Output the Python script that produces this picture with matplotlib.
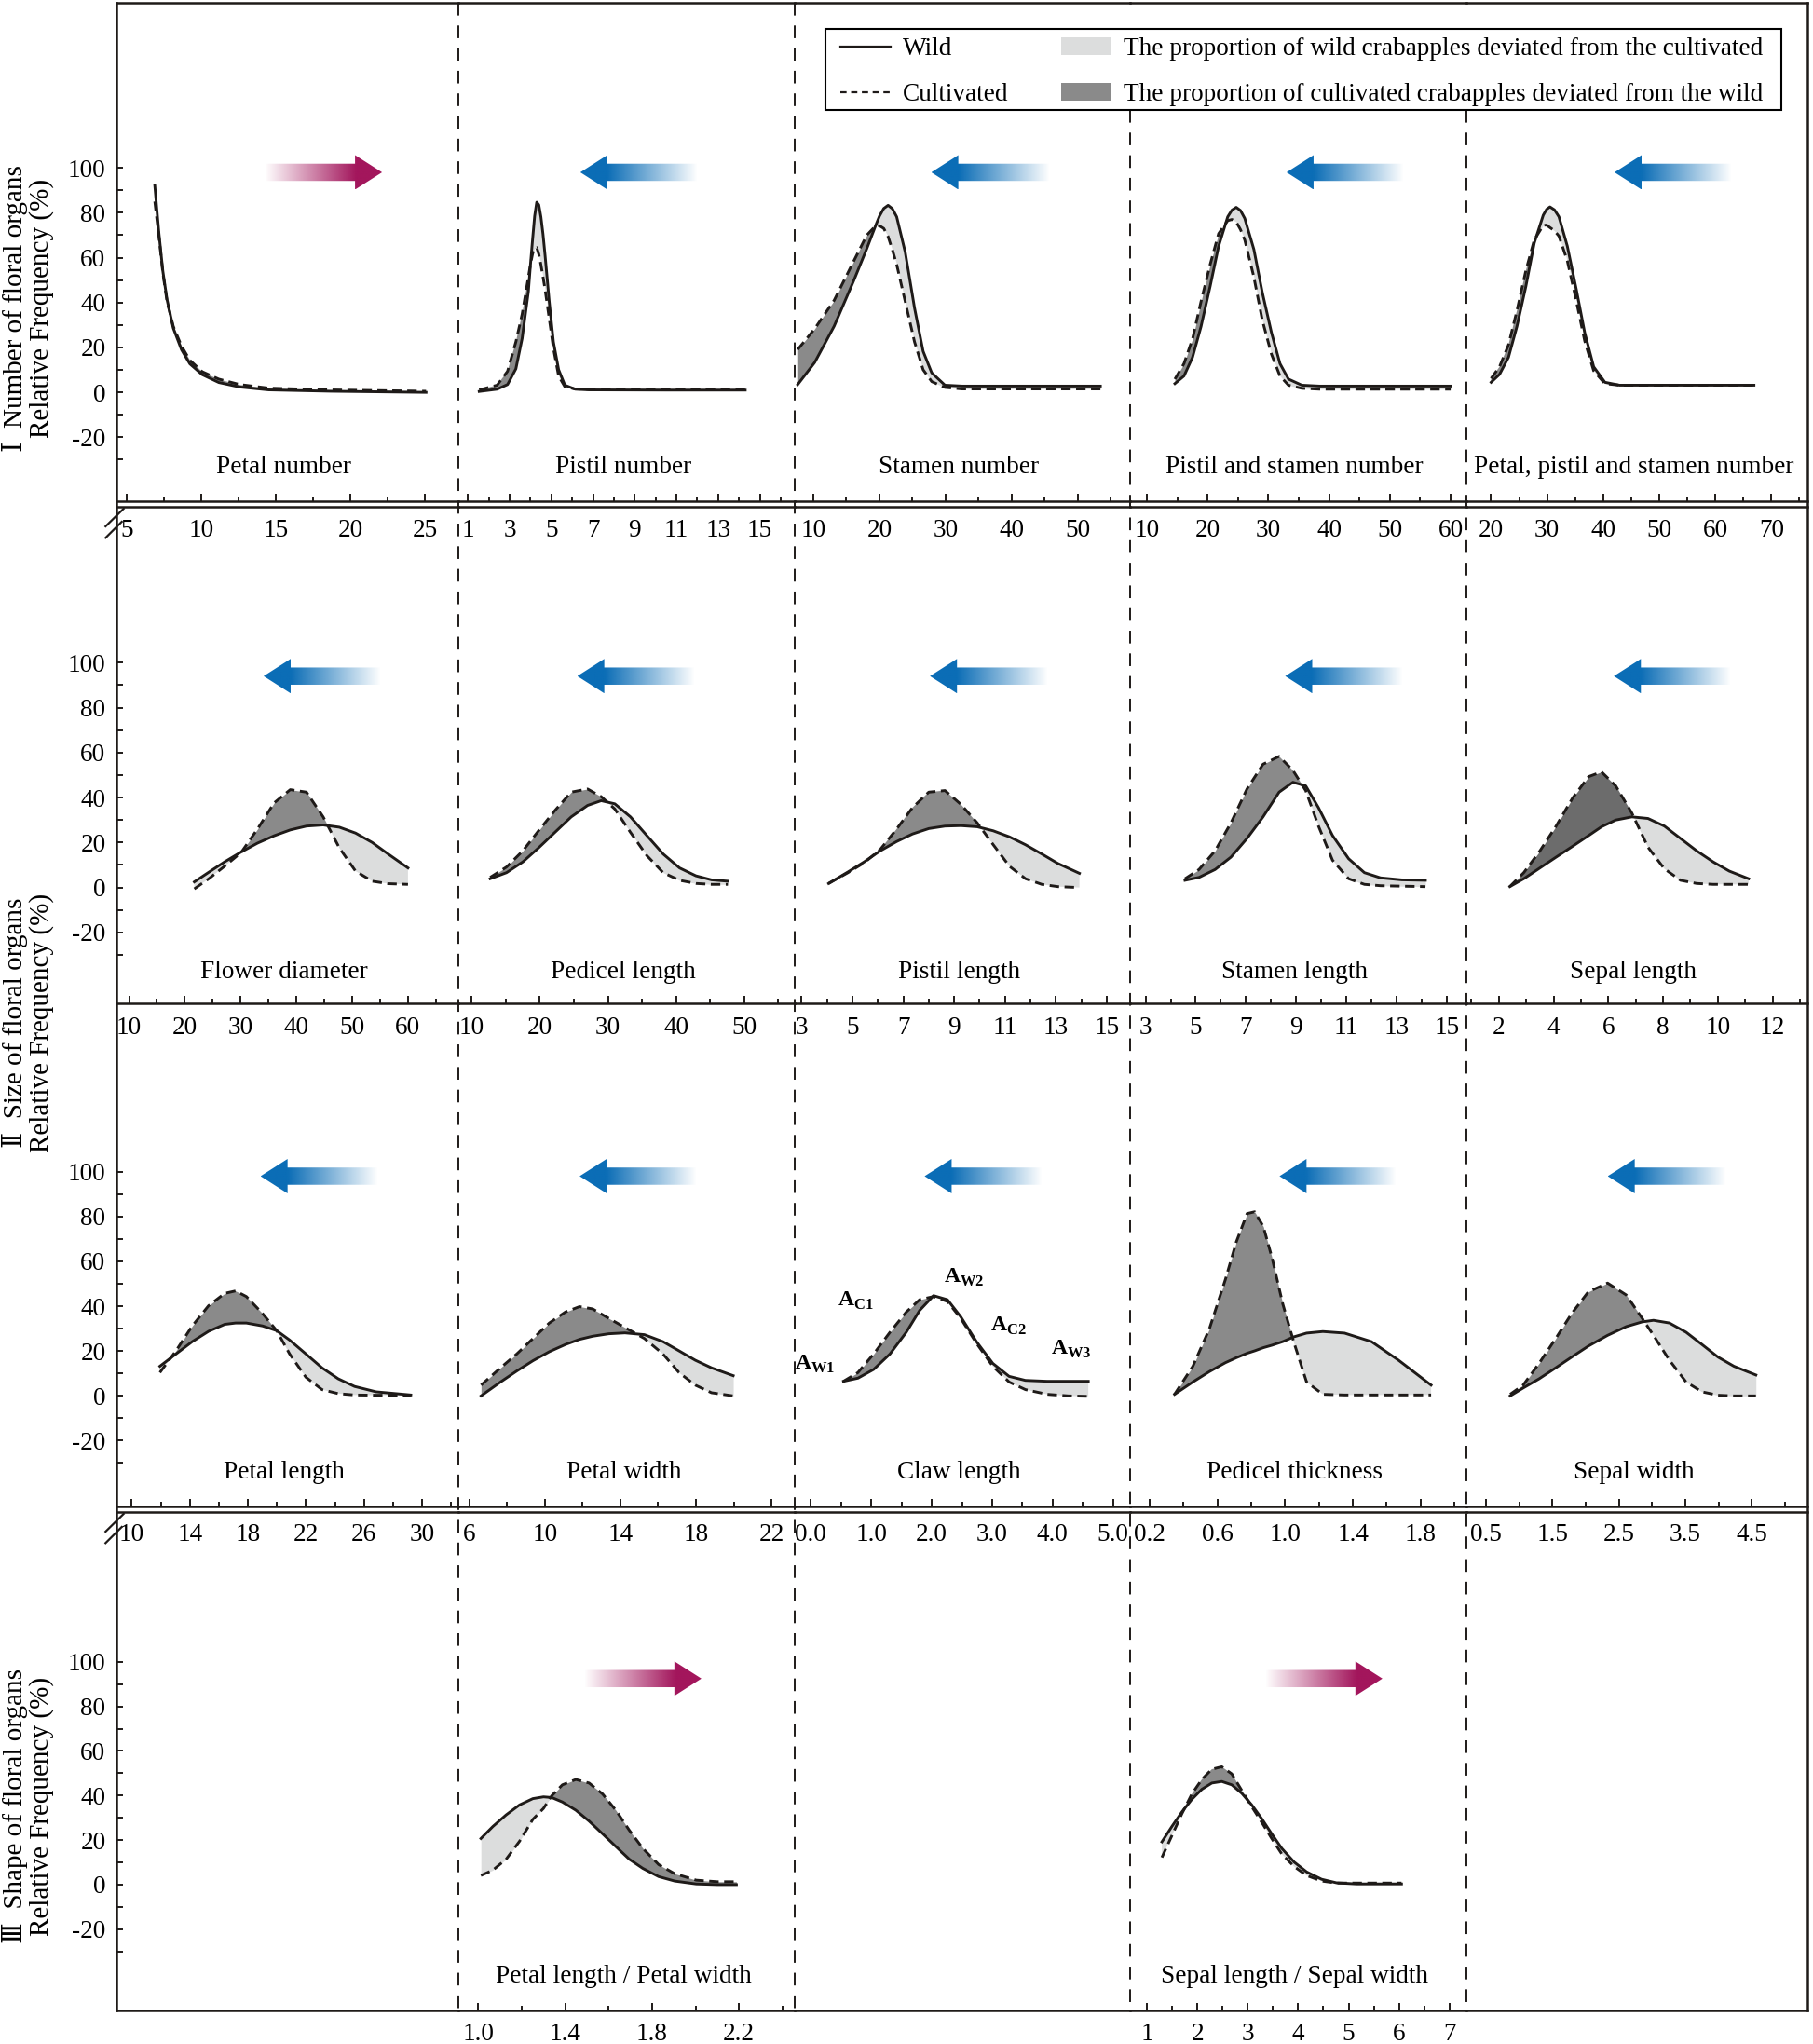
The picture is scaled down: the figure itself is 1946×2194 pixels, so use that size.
import numpy as np
import matplotlib
matplotlib.use("Agg")
import matplotlib.pyplot as plt
from matplotlib.lines import Line2D
from matplotlib.patches import Patch, Polygon, Rectangle
from matplotlib import transforms
from matplotlib.colors import to_rgb

plt.rcParams['font.family'] = ['Liberation Serif', 'DejaVu Serif', 'Noto Sans CJK SC']
plt.rcParams['mathtext.fontset'] = 'custom'
plt.rcParams['mathtext.rm'] = 'Liberation Serif'
plt.rcParams['mathtext.bf'] = 'Liberation Serif:bold'

# ---------------- data ----------------
# row I : number of floral organs
petal_num_x = [6.9, 7.17, 7.44, 7.72, 8.14, 8.69, 9.25, 10.08, 11.19, 12.58, 14.53, 18.69, 25.08]
petal_num_wild = [92.1, 71.4, 54.0, 41.3, 28.6, 19.0, 12.7, 7.9, 4.4, 2.4, 1.1, 0.5, 0.0]
petal_num_cult = [85.0, 69.8, 53.2, 40.5, 29.4, 20.6, 14.3, 9.2, 5.9, 3.5, 1.9, 1.1, 0.5]

pistil_num_x = [1.54, 2.4, 2.9, 3.3, 3.6, 3.9, 4.0, 4.1, 4.2, 4.3, 4.4, 4.5, 4.6, 4.7, 4.9, 5.1, 5.35, 5.65, 6.15, 6.8, 10.5, 14.3]
pistil_num_wild = [0.4, 1.4, 3.5, 10.5, 24.0, 45.0, 57.0, 68.0, 78.5, 84.7, 83.5, 78.2, 70.5, 61.0, 40.4, 22.5, 10.1, 3.2, 1.4, 1.1, 1.0, 1.0]
pistil_num_cult = [1.1, 3.2, 9.4, 22.5, 34.8, 51.4, 57.0, 61.7, 64.3, 64.5, 61.5, 56.9, 51.5, 45.9, 32.8, 19.7, 7.3, 2.5, 1.5, 1.4, 1.4, 1.1]

stamen_num_x = [7.64, 10.2, 13.15, 16.1, 18.08, 19.46, 20.0, 20.65, 21.3, 21.95, 22.6, 23.9, 25.3, 26.6, 27.9, 29.9, 32.5, 53.4]
stamen_num_wild = [3.5, 13.3, 29.5, 49.7, 64.0, 74.6, 78.5, 81.9, 83.3, 81.8, 78.2, 62.4, 37.6, 18.3, 8.7, 3.2, 2.8, 2.8]
stamen_num_cult = [19.1, 28.3, 41.0, 58.4, 70.0, 74.3, 74.2, 73.0, 69.4, 63.5, 57.0, 40.4, 22.5, 10.1, 4.8, 2.2, 1.5, 1.5]

ps_num_x = [14.6, 16.1, 17.5, 18.9, 20.4, 21.8, 23.3, 24.0, 24.7, 25.4, 26.1, 27.6, 29.0, 30.5, 31.9, 33.3, 35.5, 38.4, 60.0]
ps_num_wild = [3.9, 7.3, 15.6, 29.3, 47.2, 65.1, 78.2, 81.2, 82.4, 81.0, 77.5, 63.7, 44.4, 26.6, 12.8, 5.9, 3.2, 2.8, 2.8]
ps_num_cult = [5.9, 12.8, 23.8, 40.4, 56.9, 70.7, 76.5, 77.0, 75.9, 72.5, 67.9, 51.4, 32.1, 17.0, 7.3, 3.2, 1.8, 1.4, 1.4]

pps_num_x = [20.0, 21.5, 23.1, 24.6, 26.2, 27.7, 29.3, 29.9, 30.5, 31.3, 32.1, 33.6, 35.2, 36.7, 38.3, 40.3, 42.9, 66.9]
pps_num_wild = [4.5, 8.0, 15.6, 29.3, 47.2, 66.5, 78.9, 81.5, 82.6, 81.3, 78.2, 65.1, 45.9, 26.6, 11.4, 4.5, 3.2, 3.2]
pps_num_cult = [6.2, 11.4, 21.1, 36.3, 54.2, 67.9, 74.4, 74.5, 73.4, 72.0, 69.6, 58.6, 40.8, 22.9, 9.6, 3.9, 3.2, 3.2]

# row II : size of floral organs
flower_x = [21.7, 24.3, 27.2, 30.1, 33.0, 36.0, 38.9, 41.8, 44.8, 47.7, 50.6, 53.6, 56.5, 60.0]
flower_wild = [2.5, 6.8, 11.5, 15.8, 19.7, 23.0, 25.6, 27.3, 27.8, 26.8, 24.2, 20.0, 14.8, 8.7]
flower_cult = [-0.6, 3.9, 9.6, 15.6, 25.9, 37.6, 43.5, 42.4, 31.4, 17.6, 7.3, 2.8, 1.7, 1.4]

pedicel_x = [12.7, 15.1, 17.5, 19.8, 22.2, 24.6, 27.0, 29.0, 31.0, 33.3, 35.7, 38.1, 40.5, 42.9, 45.2, 47.6]
pedicel_wild = [3.9, 6.6, 11.4, 17.6, 24.5, 31.4, 36.5, 38.6, 37.2, 31.4, 23.1, 14.9, 8.7, 5.2, 3.4, 2.8]
pedicel_cult = [4.5, 9.1, 16.3, 25.2, 34.2, 42.4, 43.8, 40.4, 34.9, 24.5, 14.2, 6.6, 3.2, 1.8, 1.4, 1.4]

pistil_len_x = [4.06, 4.82, 5.46, 6.09, 6.73, 7.36, 8.0, 8.64, 9.27, 9.91, 10.54, 11.18, 11.81, 12.45, 13.08, 13.93]
pistil_len_wild = [1.8, 6.9, 11.4, 16.3, 20.4, 23.8, 26.2, 27.3, 27.5, 27.0, 25.2, 22.5, 19.0, 14.9, 10.7, 6.3]
pistil_len_cult = [1.8, 6.6, 11.0, 16.9, 25.9, 35.5, 42.4, 43.1, 36.9, 28.7, 19.0, 9.4, 3.9, 1.4, 0.4, 0.0]

stamen_len_x = [4.57, 5.13, 5.77, 6.40, 7.04, 7.68, 8.32, 8.87, 9.38, 9.89, 10.45, 11.09, 11.72, 12.36, 13.21, 14.15]
stamen_len_wild = [3.2, 4.5, 8.0, 13.5, 21.8, 31.4, 42.4, 46.8, 45.2, 35.5, 23.1, 12.8, 6.6, 4.3, 3.4, 3.2]
stamen_len_cult = [3.9, 8.0, 16.3, 28.7, 43.8, 54.8, 58.3, 52.1, 43.1, 27.3, 12.1, 3.9, 1.4, 0.8, 0.6, 0.4]

sepal_len_x = [2.40, 2.91, 3.50, 4.09, 4.69, 5.28, 5.75, 6.27, 6.86, 7.45, 8.05, 8.64, 9.23, 9.83, 10.42, 11.13]
sepal_len_wild = [0.4, 3.9, 8.7, 13.5, 18.3, 23.1, 27.0, 30.0, 31.4, 30.7, 27.3, 21.8, 16.3, 11.4, 7.3, 3.9]
sepal_len_cult = [0.4, 6.6, 16.3, 27.3, 39.7, 49.3, 51.4, 45.2, 33.1, 17.9, 8.3, 3.2, 1.8, 1.4, 1.4, 1.4]

petal_len_x = [11.94, 13.05, 14.17, 15.29, 16.40, 17.15, 17.89, 19.01, 19.98, 20.87, 21.99, 23.10, 24.22, 25.34, 26.83, 29.21]
petal_len_wild = [13.2, 18.7, 24.2, 28.8, 31.9, 32.5, 32.5, 31.2, 29.1, 24.9, 18.7, 12.5, 7.6, 4.2, 1.8, 0.4]
petal_len_cult = [10.4, 20.1, 31.2, 40.2, 45.7, 46.8, 44.3, 36.7, 29.1, 18.7, 8.3, 2.8, 1.0, 0.4, 0.3, 0.3]

petal_wid_x = [6.63, 7.66, 8.52, 9.38, 10.24, 11.09, 11.84, 12.53, 13.38, 14.24, 15.27, 16.25, 17.10, 17.96, 18.82, 19.97]
petal_wid_wild = [0.0, 6.2, 11.1, 15.7, 19.7, 22.9, 25.2, 26.6, 27.7, 28.1, 27.3, 24.2, 20.1, 15.9, 12.5, 9.0]
petal_wid_cult = [4.8, 12.5, 18.7, 25.6, 32.5, 37.4, 39.8, 38.8, 34.6, 30.5, 25.6, 18.7, 10.4, 4.8, 1.4, 0.0]

claw_x = [0.54, 0.78, 1.04, 1.31, 1.58, 1.80, 2.03, 2.26, 2.48, 2.74, 3.01, 3.28, 3.55, 3.91, 4.26, 4.59]
claw_wild = [6.5, 7.9, 11.8, 18.7, 28.4, 38.1, 44.7, 42.9, 35.3, 24.2, 14.5, 8.7, 6.9, 6.5, 6.5, 6.5]
claw_cult = [6.5, 10.4, 18.7, 28.4, 37.4, 42.9, 44.3, 42.1, 34.6, 23.5, 13.2, 6.2, 2.8, 0.7, 0.0, -0.2]

ped_thick_x = [0.348, 0.456, 0.553, 0.648, 0.712, 0.776, 0.821, 0.872, 0.923, 0.987, 1.051, 1.127, 1.223, 1.351, 1.51, 1.67, 1.862]
ped_thick_wild = [0.7, 6.2, 10.8, 14.8, 17.0, 19.0, 20.1, 21.5, 22.6, 24.2, 26.3, 28.0, 28.7, 28.0, 24.2, 15.9, 4.8]
ped_thick_cult = [0.7, 13.2, 29.8, 51.9, 68.6, 81.3, 82.1, 75.5, 61.6, 40.9, 24.2, 6.2, 0.7, 0.4, 0.4, 0.4, 0.4]

sepal_wid_x = [0.865, 1.06, 1.30, 1.55, 1.79, 2.04, 2.33, 2.61, 2.85, 3.02, 3.26, 3.51, 3.75, 3.99, 4.23, 4.56]
sepal_wid_wild = [0.0, 3.5, 7.6, 12.5, 17.3, 22.2, 27.0, 30.9, 33.0, 33.7, 32.5, 28.4, 22.9, 17.3, 13.2, 9.3]
sepal_wid_cult = [0.7, 4.8, 14.5, 25.6, 36.7, 46.4, 50.3, 45.0, 34.6, 27.0, 15.9, 6.2, 1.8, 0.3, 0.0, 0.0]

# row III : shape of floral organs
plw_x = [1.012, 1.067, 1.128, 1.19, 1.251, 1.30, 1.338, 1.387, 1.449, 1.51, 1.572, 1.633, 1.695, 1.757, 1.83, 1.904, 2.003, 2.10, 2.188]
plw_wild = [20.7, 26.1, 31.3, 35.8, 38.6, 39.4, 39.1, 37.1, 33.4, 28.5, 22.8, 17.1, 11.4, 7.3, 3.6, 1.6, 0.3, 0.0, 0.0]
plw_cult = [4.1, 6.5, 11.4, 19.5, 29.3, 34.2, 39.9, 44.8, 47.2, 45.6, 40.7, 33.4, 24.4, 16.3, 9.0, 4.9, 2.0, 1.3, 1.3]

slw_x = [1.297, 1.495, 1.693, 1.891, 2.089, 2.287, 2.485, 2.683, 2.881, 3.079, 3.277, 3.475, 3.673, 3.921, 4.168, 4.465, 4.762, 5.158, 5.554, 6.05]
slw_wild = [19.2, 26.1, 32.6, 38.3, 42.8, 45.6, 46.3, 44.8, 41.0, 35.8, 29.6, 22.8, 16.3, 10.1, 5.7, 2.4, 0.8, 0.3, 0.3, 0.3]
slw_cult = [12.2, 22.0, 31.8, 40.7, 47.2, 51.8, 52.9, 49.7, 42.3, 35.0, 28.0, 20.7, 13.8, 8.1, 4.1, 1.6, 0.7, 0.7, 0.7, 0.7]

# y axis ticks
y_ticks = [-20, 0, 20, 40, 60, 80, 100]
y_ticklabels = ['-20', '0', '20', '40', '60', '80', '100']
y_minor = [-30, -10, 10, 30, 50, 70, 90]

row_titles = ['Ⅰ  Number of floral organs\nRelative Frequency (%)',
              'Ⅱ  Size of floral organs\nRelative Frequency (%)',
              'Ⅲ  Shape of floral organs\nRelative Frequency (%)']

claw_marks = [r'$\mathbf{A}_{\mathbf{W1}}$', r'$\mathbf{A}_{\mathbf{C1}}$', r'$\mathbf{A}_{\mathbf{W2}}$',
              r'$\mathbf{A}_{\mathbf{C2}}$', r'$\mathbf{A}_{\mathbf{W3}}$']
claw_mark_x = [-0.26, 0.45, 2.2, 2.97, 3.97]
claw_mark_y = [11.7, 40.0, 50.4, 29.0, 18.5]

# panels: (row, col, label, x, wild, cult, xlim, ticks, ticklabels, minor, arrow)
panels = [
    (0, 0, 'Petal number', petal_num_x, petal_num_wild, petal_num_cult, (4.30, 27.27),
     [5, 10, 15, 20, 25], ['5', '10', '15', '20', '25'], [7.5, 12.5, 17.5, 22.5], ('right', 0.605)),
    (0, 1, 'Pistil number', pistil_num_x, pistil_num_wild, pistil_num_cult, (0.56, 16.69),
     [1, 3, 5, 7, 9, 11, 13, 15], ['1', '3', '5', '7', '9', '11', '13', '15'], [2, 4, 6, 8, 10, 12, 14, 16], ('left', 0.536)),
    (0, 2, 'Stamen number', stamen_num_x, stamen_num_wild, stamen_num_cult, (7.24, 57.88),
     [10, 20, 30, 40, 50], ['10', '20', '30', '40', '50'], [15, 25, 35, 45, 55], ('left', 0.582)),
    (0, 3, 'Pistil and stamen number', ps_num_x, ps_num_wild, ps_num_cult, (7.21, 62.58),
     [10, 20, 30, 40, 50, 60], ['10', '20', '30', '40', '50', '60'], [15, 25, 35, 45, 55], ('left', 0.640)),
    (0, 4, 'Petal, pistil and stamen number', pps_num_x, pps_num_wild, pps_num_cult, (15.58, 76.5),
     [20, 30, 40, 50, 60, 70], ['20', '30', '40', '50', '60', '70'], [25, 35, 45, 55, 65, 75], ('left', 0.606)),
    (1, 0, 'Flower diameter', flower_x, flower_wild, flower_cult, (7.66, 69.1),
     [10, 20, 30, 40, 50, 60], ['10', '20', '30', '40', '50', '60'], [15, 25, 35, 45, 55, 65], ('left', 0.602)),
    (1, 1, 'Pedicel length', pedicel_x, pedicel_wild, pedicel_cult, (8.09, 57.46),
     [10, 20, 30, 40, 50], ['10', '20', '30', '40', '50'], [15, 25, 35, 45, 55], ('left', 0.527)),
    (1, 2, 'Pistil length', pistil_len_x, pistil_len_wild, pistil_len_cult, (2.74, 15.92),
     [3, 5, 7, 9, 11, 13, 15], ['3', '5', '7', '9', '11', '13', '15'], [4, 6, 8, 10, 12, 14], ('left', 0.578)),
    (1, 3, 'Stamen length', stamen_len_x, stamen_len_wild, stamen_len_cult, (2.38, 15.78),
     [3, 5, 7, 9, 11, 13, 15], ['3', '5', '7', '9', '11', '13', '15'], [4, 6, 8, 10, 12, 14], ('left', 0.636)),
    (1, 4, 'Sepal length', sepal_len_x, sepal_len_wild, sepal_len_cult, (0.81, 13.29),
     [2, 4, 6, 8, 10, 12], ['2', '4', '6', '8', '10', '12'], [1, 3, 5, 7, 9, 11, 13], ('left', 0.604)),
    (2, 0, 'Petal length', petal_len_x, petal_len_wild, petal_len_cult, (8.92, 32.51),
     [10, 14, 18, 22, 26, 30], ['10', '14', '18', '22', '26', '30'], [12, 16, 20, 24, 28, 32], ('left', 0.593)),
    (2, 1, 'Petal width', petal_wid_x, petal_wid_wild, petal_wid_cult, (5.45, 23.24),
     [6, 10, 14, 18, 22], ['6', '10', '14', '18', '22'], [8, 12, 16, 20], ('left', 0.534)),
    (2, 2, 'Claw length', claw_x, claw_wild, claw_cult, (-0.26, 5.28),
     [0, 1, 2, 3, 4, 5], ['0.0', '1.0', '2.0', '3.0', '4.0', '5.0'], [0.5, 1.5, 2.5, 3.5, 4.5], ('left', 0.562)),
    (2, 3, 'Pedicel thickness', ped_thick_x, ped_thick_wild, ped_thick_cult, (0.085, 2.07),
     [0.2, 0.6, 1.0, 1.4, 1.8], ['0.2', '0.6', '1.0', '1.4', '1.8'], [0.4, 0.8, 1.2, 1.6, 2.0], ('left', 0.619)),
    (2, 4, 'Sepal width', sepal_wid_x, sepal_wid_wild, sepal_wid_cult, (0.206, 5.34),
     [0.5, 1.5, 2.5, 3.5, 4.5], ['0.5', '1.5', '2.5', '3.5', '4.5'], [1, 2, 3, 4, 5], ('left', 0.586)),
    (3, 1, 'Petal length / Petal width', plw_x, plw_wild, plw_cult, (0.91, 2.458),
     [1.0, 1.4, 1.8, 2.2], ['1.0', '1.4', '1.8', '2.2'], [1.2, 1.6, 2.0, 2.4], ('right', 0.547)),
    (3, 3, 'Sepal length / Sepal width', slw_x, slw_wild, slw_cult, (0.664, 7.336),
     [1, 2, 3, 4, 5, 6, 7], ['1', '2', '3', '4', '5', '6', '7'], [1.5, 2.5, 3.5, 4.5, 5.5, 6.5], ('right', 0.576)),
]

# ---------------- layout (pixels of the 1946 x 2194 canvas) ----------------
W, H = 1946, 2194
COL_X = [124.5, 492.4, 853.4, 1212.9, 1573.9, 1940.4]
ROW_Y = [(3.0, 538.3), (543.7, 1077.2), (1077.2, 1616.7), (1622.7, 2158.0)]
ROW_YLIM = [(-48.6, 173.5), (-51.6, 169.4), (-49.2, 175.0), (-56.5, 167.4)]
XPAD = [13.5, 10.0, 13.0, 9.0]
LABEL_Y = [0.068, 0.063, 0.067, 0.069]
ARROW_Y = [98.0, 94.0, 98.0, 92.5]
TITLE_Y = [331, 1098, 1939]

LINE = '#1e1a18'
LIGHT = '#dcdddd'
DARK = '#8a8a8a'
DARK_ALT = {(1, 4): '#6c6c6c'}
BLUE = '#0b6db6'
MAGENTA = '#a3165c'
FS = 19.6

fig = plt.figure(figsize=(W / 100, H / 100), dpi=100)


def px_rect(x0, x1, top, bot):
    return [x0 / W, 1 - bot / H, (x1 - x0) / W, (bot - top) / H]


axes = {}
for r in range(4):
    for c in range(5):
        top, bot = ROW_Y[r]
        ax = fig.add_axes(px_rect(COL_X[c], COL_X[c + 1], top, bot))
        ax.patch.set_visible(False)
        ax.set_ylim(*ROW_YLIM[r])
        ax.spines['left'].set_visible(False)
        ax.spines['right'].set_visible(False)
        ax.spines['top'].set_visible(r in (0, 1, 3))
        for s in ('top', 'bottom'):
            ax.spines[s].set_linewidth(1.8)
            ax.spines[s].set_color(LINE)
        ax.set_xticks([])
        ax.set_yticks([])
        if c == 0:
            ax.set_yticks(y_ticks)
            ax.set_yticklabels(y_ticklabels)
            ax.set_yticks(y_minor, minor=True)
            ax.tick_params(axis='y', which='both', direction='in', length=5, width=1.4,
                           labelsize=FS, pad=8, color=LINE)
        axes[(r, c)] = ax

for (r, c, name, x, wild, cult, xlim, ticks, tlabels, minor, arrow) in panels:
    ax = axes[(r, c)]
    x = np.array(x)
    wild = np.array(wild)
    cult = np.array(cult)
    ax.fill_between(x, wild, cult, where=cult >= wild, interpolate=True,
                    color=DARK_ALT.get((r, c), DARK), lw=0)
    ax.fill_between(x, wild, cult, where=wild >= cult, interpolate=True, color=LIGHT, lw=0)
    ax.plot(x, wild, color=LINE, lw=2.1, solid_joinstyle='round')
    ax.plot(x, cult, color=LINE, lw=2.1, ls=(0, (3.5, 2.0)))
    ax.set_xlim(*xlim)
    ax.set_ylim(*ROW_YLIM[r])
    ax.set_xticks(ticks)
    ax.set_xticklabels(tlabels)
    ax.set_xticks(minor, minor=True)
    ax.tick_params(axis='x', which='major', direction='in', length=5.5, width=1.4,
                   labelsize=FS, pad=XPAD[r], color=LINE)
    ax.tick_params(axis='x', which='minor', direction='in', length=3.3, width=1.4, color=LINE)
    ax.text(0.49, LABEL_Y[r], name, transform=ax.transAxes, ha='center', va='center', fontsize=FS)

# letters in the claw length panel
ax_claw = axes[(2, 2)]
for lab, lx, ly in zip(claw_marks, claw_mark_x, claw_mark_y):
    ax_claw.text(lx, ly, lab, ha='left', va='baseline', fontsize=17)


# gradient arrows
def draw_arrow(ax, fx, yv, direction):
    tr = transforms.blended_transform_factory(ax.transAxes, ax.transData)
    cx, cy = tr.transform((fx, yv))
    w, h = 126, 37
    aax = fig.add_axes([(cx - w / 2) / W, (cy - h / 2) / H, w / W, h / H])
    aax.set_axis_off()
    aax.set_xlim(0, 1)
    aax.set_ylim(0, 1)
    hl = 29 / 126
    s0, s1 = 0.25, 0.75
    ramp = np.linspace(0, 1, 256)
    if direction == 'right':
        pts = [(0, s0), (1 - hl, s0), (1 - hl, 0), (1, 0.5), (1 - hl, 1), (1 - hl, s1), (0, s1)]
        col = MAGENTA
        alpha = np.clip(ramp / 0.78, 0, 1)
    else:
        pts = [(1, s0), (hl, s0), (hl, 0), (0, 0.5), (hl, 1), (hl, s1), (1, s1)]
        col = BLUE
        alpha = np.clip((1 - ramp) / (1 - hl), 0, 1)
    img = np.zeros((1, 256, 4))
    img[..., :3] = to_rgb(col)
    img[..., 3] = alpha
    im = aax.imshow(img, extent=(0, 1, 0, 1), aspect='auto', interpolation='bilinear')
    poly = Polygon(pts, closed=True, transform=aax.transAxes, facecolor='none', edgecolor='none')
    aax.add_patch(poly)
    im.set_clip_path(poly)


for (r, c, name, x, wild, cult, xlim, ticks, tlabels, minor, arrow) in panels:
    draw_arrow(axes[(r, c)], arrow[1], ARROW_Y[r], arrow[0])


# frame lines, separators and break marks
def fig_line(xs, ys, **kw):
    fig.add_artist(Line2D([v / W for v in xs], [1 - v / H for v in ys],
                          transform=fig.transFigure, **kw))


fig_line([COL_X[0], COL_X[0]], [3.0, 2158.0], color=LINE, lw=1.8)
fig_line([COL_X[5], COL_X[5]], [3.0, 2158.0], color=LINE, lw=1.8)
for i, xs in enumerate(COL_X[1:5]):
    y0 = 3.0 if i < 2 else 117.5
    fig_line([xs, xs], [y0, 2158.0], color=LINE, lw=1.4, ls=(0, (7, 5.5)))
for yl in (543.7, 1622.7):
    fig_line([113.3, 132.7], [yl + 21.3, yl + 2.3], color=LINE, lw=1.6)
    fig_line([113.3, 130.7], [yl + 33.6, yl + 16.3], color=LINE, lw=1.6)

# row titles
for t, yc in zip(row_titles, TITLE_Y):
    fig.text(30 / W, 1 - yc / H, t, rotation=90, ha='center', va='center',
             multialignment='center', fontsize=21, linespacing=1.1)

# legend: frame drawn separately, entries placed inside it
LEG_BOX = (885.6, 30.8, 1912.4, 117.5)
fig.add_artist(Rectangle((LEG_BOX[0] / W, 1 - LEG_BOX[3] / H),
                         (LEG_BOX[2] - LEG_BOX[0]) / W, (LEG_BOX[3] - LEG_BOX[1]) / H,
                         transform=fig.transFigure, facecolor='white', edgecolor='black',
                         lw=1.5, zorder=4))
handles = [Line2D([], [], color=LINE, lw=1.6),
           Line2D([], [], color=LINE, lw=1.6, ls=(0, (3, 2.2))),
           Patch(facecolor=LIGHT, edgecolor='none'),
           Patch(facecolor=DARK, edgecolor='none')]
labels = ['Wild', 'Cultivated',
          'The proportion of wild crabapples deviated from the cultivated',
          'The proportion of cultivated crabapples deviated from the wild']
leg = fig.legend(handles, labels, ncol=2, loc='upper left',
                 bbox_to_anchor=(902.4 / W, 1 - 40.0 / H), frameon=False,
                 fontsize=FS, handlelength=1.97, handletextpad=0.47, columnspacing=2.1,
                 labelspacing=0.89, borderpad=0, borderaxespad=0)
leg.set_zorder(5)

fig.savefig('out.png', dpi=100)
